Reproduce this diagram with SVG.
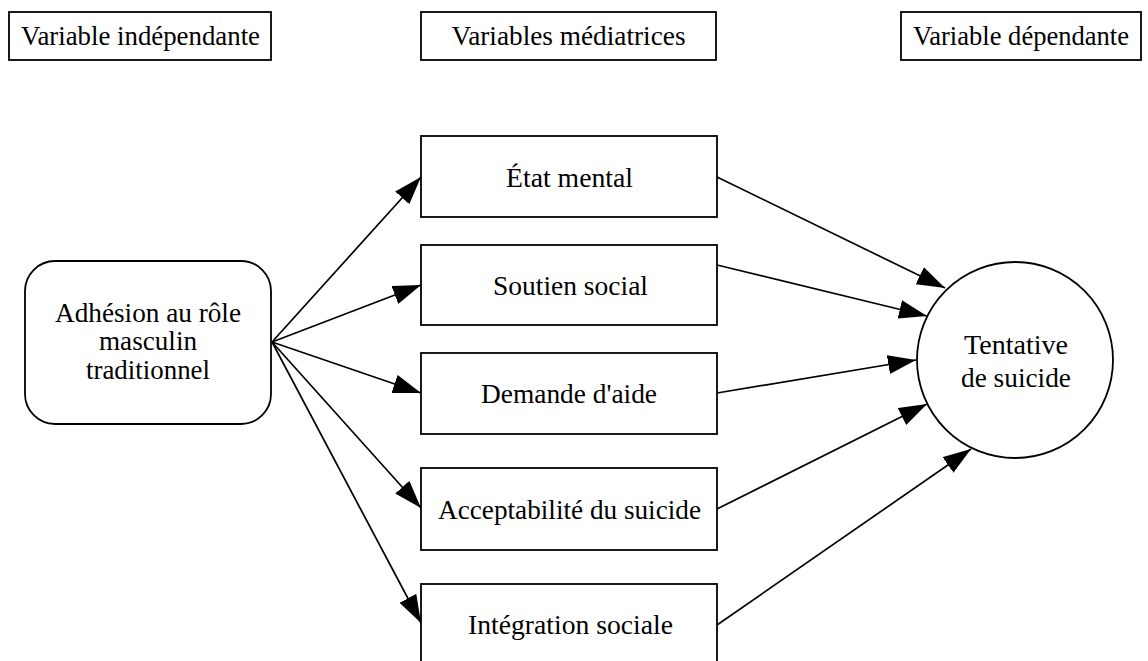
<svg xmlns="http://www.w3.org/2000/svg" width="1148" height="661" viewBox="0 0 1148 661">
<style>
  .box { fill: #ffffff; stroke: #000000; stroke-width: 1.8; }
  .t { font-family: "Liberation Serif", "Times New Roman", serif; font-size: 27px; fill: #000000; text-anchor: middle; }
  .h { font-family: "Liberation Serif", "Times New Roman", serif; font-size: 27px; fill: #000000; text-anchor: middle; }
  .edge { fill: none; stroke: #000000; stroke-width: 1.7; }
</style>
<defs>
  <marker id="arrow" markerUnits="userSpaceOnUse" markerWidth="29" markerHeight="19" refX="28" refY="9.5" orient="auto">
    <path d="M0,0 L28,9.5 L0,19 Z" fill="#000000"/>
  </marker>
</defs>
<rect width="1148" height="661" fill="#ffffff"/>

<g id="header-independante">
  <rect class="box" x="9" y="12" width="262" height="48"/>
  <text class="h" x="140.5" y="45" textLength="239" lengthAdjust="spacingAndGlyphs">Variable indépendante</text>
</g>
<g id="header-mediatrices">
  <rect class="box" x="421" y="12" width="295" height="48"/>
  <text class="h" x="568.5" y="45" textLength="234" lengthAdjust="spacingAndGlyphs">Variables médiatrices</text>
</g>
<g id="header-dependante">
  <rect class="box" x="901" y="12" width="240" height="48"/>
  <text class="h" x="1021" y="45" textLength="216" lengthAdjust="spacingAndGlyphs">Variable dépendante</text>
</g>

<g id="connectors">
  <line class="edge" x1="272" y1="342" x2="421" y2="177" marker-end="url(#arrow)"/>
  <line class="edge" x1="272" y1="342" x2="421" y2="285" marker-end="url(#arrow)"/>
  <line class="edge" x1="272" y1="342" x2="421" y2="393" marker-end="url(#arrow)"/>
  <line class="edge" x1="272" y1="342" x2="421" y2="508" marker-end="url(#arrow)"/>
  <line class="edge" x1="272" y1="342" x2="421" y2="623" marker-end="url(#arrow)"/>
  <line class="edge" x1="717" y1="177" x2="945" y2="288" marker-end="url(#arrow)"/>
  <line class="edge" x1="717" y1="265" x2="927" y2="316" marker-end="url(#arrow)"/>
  <line class="edge" x1="717" y1="393" x2="916" y2="360" marker-end="url(#arrow)"/>
  <line class="edge" x1="717" y1="509" x2="927" y2="404" marker-end="url(#arrow)"/>
  <line class="edge" x1="717" y1="625" x2="971" y2="449" marker-end="url(#arrow)"/>
</g>

<g id="node-adhesion">
  <rect class="box" x="25" y="261" width="246" height="163" rx="30" ry="30"/>
  <text class="t" x="148" y="322" textLength="186" lengthAdjust="spacingAndGlyphs">Adhésion au rôle</text>
  <text class="t" x="148" y="350" textLength="98" lengthAdjust="spacingAndGlyphs">masculin</text>
  <text class="t" x="148" y="379" textLength="124" lengthAdjust="spacingAndGlyphs">traditionnel</text>
</g>

<g id="node-etat-mental">
  <rect class="box" x="421" y="136" width="296" height="81"/>
  <text class="t" x="569.5" y="187" textLength="127" lengthAdjust="spacingAndGlyphs">État mental</text>
</g>
<g id="node-soutien-social">
  <rect class="box" x="421" y="245" width="296" height="80"/>
  <text class="t" x="570.5" y="295" textLength="155" lengthAdjust="spacingAndGlyphs">Soutien social</text>
</g>
<g id="node-demande-aide">
  <rect class="box" x="421" y="353" width="296" height="81"/>
  <text class="t" x="569" y="403" textLength="176" lengthAdjust="spacingAndGlyphs">Demande d'aide</text>
</g>
<g id="node-acceptabilite">
  <rect class="box" x="421" y="468" width="296" height="82"/>
  <text class="t" x="569.5" y="519" textLength="263" lengthAdjust="spacingAndGlyphs">Acceptabilité du suicide</text>
</g>
<g id="node-integration">
  <rect class="box" x="421" y="584" width="296" height="80"/>
  <text class="t" x="570.5" y="634" textLength="205" lengthAdjust="spacingAndGlyphs">Intégration sociale</text>
</g>

<g id="node-tentative">
  <circle class="box" cx="1015" cy="360" r="98"/>
  <text class="t" x="1016" y="354" textLength="104" lengthAdjust="spacingAndGlyphs">Tentative</text>
  <text class="t" x="1016" y="387" textLength="110" lengthAdjust="spacingAndGlyphs">de suicide</text>
</g>
</svg>
